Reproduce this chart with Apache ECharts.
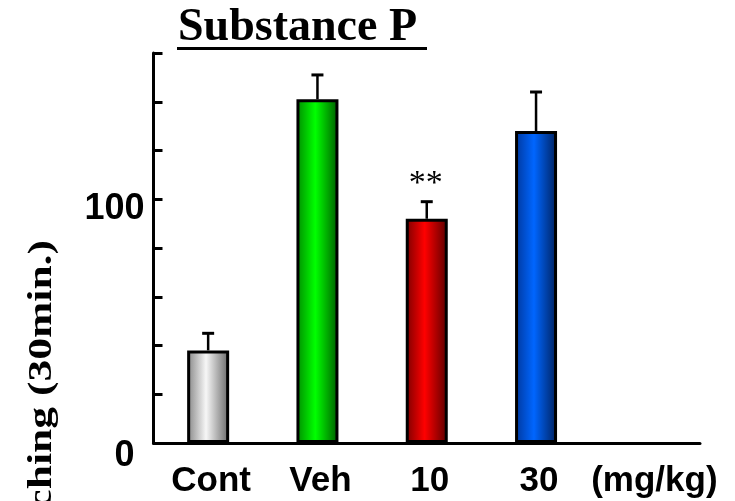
<!DOCTYPE html>
<html>
<head>
<meta charset="utf-8">
<script src="https://cdn.jsdelivr.net/npm/echarts@6/dist/echarts.min.js"></script>
<style>
  html, body { margin: 0; padding: 0; background: #ffffff; }
  #chart { width: 735px; height: 501px; }
</style>
</head>
<body>
<div id="chart"></div>
<script>
// Substance P: scratching counts per group (mean + SEM)
const categories = ['Cont', 'Veh', '10', '30', '(mg/kg)'];
const means = [38, 141, 92, 128];
const sem = [7, 10, 7, 16];
const significance = ['', '', '**', ''];
const labeledTicks = [0, 100];
const yMin = 0, yMax = 160, yStep = 20;

// left edge / highlight / right edge of each cylinder-like bar
const shades = [
  ['#858585', '#f7f7f7', '#666666'],
  ['#008c00', '#00ff00', '#005a00'],
  ['#7a0000', '#ff0000', '#580000'],
  ['#00379c', '#0066ff', '#00205c']
];

const serif = "'Liberation Serif', 'Times New Roman', serif";
const sans = "'Liberation Sans', Arial, sans-serif";

function shade(i) {
  const c = shades[i];
  return new echarts.graphic.LinearGradient(0, 0, 1, 0, [
    { offset: 0, color: c[0] },
    { offset: 0.45, color: c[1] },
    { offset: 1, color: c[2] }
  ]);
}

const chart = echarts.init(document.getElementById('chart'), null, { renderer: 'canvas' });

chart.setOption({
  backgroundColor: '#ffffff',
  animation: false,
  title: {
    text: 'Substance P',
    left: 178,
    top: 5,
    padding: 0,
    textStyle: { fontFamily: serif, fontWeight: 'bold', fontSize: 46, color: '#000' }
  },
  grid: {
    left: 153.5, right: 35, top: 53, bottom: 58,
    containLabel: false, outerBoundsMode: 'none'
  },
  xAxis: {
    type: 'category',
    data: categories,
    axisLine: { lineStyle: { color: '#000', width: 3 } },
    axisTick: { show: false },
    axisLabel: {
      interval: 0,
      margin: 38,
      verticalAlign: 'middle',
      formatter: function (v, i) {
        return i === categories.length - 1 ? '{u|' + v + '}' : '{c|' + v + '}';
      },
      rich: {
        c: { fontFamily: sans, fontWeight: 'bold', fontSize: 35, color: '#000', padding: [0, 0, 0, 6] },
        u: { fontFamily: sans, fontWeight: 'bold', fontSize: 35, color: '#000', padding: [0, 0, 0, 18] }
      }
    }
  },
  yAxis: {
    type: 'value',
    min: yMin, max: yMax, interval: yStep,
    axisLine: { show: true, lineStyle: { color: '#000', width: 3 } },
    axisTick: { show: true, inside: true, length: 9, lineStyle: { color: '#000', width: 3 } },
    splitLine: { show: false },
    axisLabel: {
      margin: 9,
      verticalAlign: 'middle',
      formatter: function (v) {
        if (labeledTicks.indexOf(v) < 0) return '';
        return v === 0 ? '{z|' + v + '}' : '{h|' + v + '}';
      },
      rich: {
        h: { fontFamily: sans, fontWeight: 'bold', fontSize: 36, color: '#000', padding: [20, 0, 0, 0] },
        z: { fontFamily: sans, fontWeight: 'bold', fontSize: 36, color: '#000', padding: [26, 10, 0, 0] }
      }
    }
  },
  series: [
    {
      type: 'bar',
      barWidth: 42,
      data: means.map(function (m, i) {
        return { value: m, itemStyle: { color: shade(i), borderColor: '#000', borderWidth: 3 } };
      }),
      z: 2
    },
    {
      type: 'custom',
      data: means.map(function (m, i) { return [i, m, sem[i]]; }),
      z: 3,
      renderItem: function (params, api) {
        const i = api.value(0);
        const m = api.value(1);
        const e = api.value(2);
        const base = api.coord([i, m]);
        const top = api.coord([i, m + e]);
        const children = [
          { type: 'line', shape: { x1: base[0], y1: base[1], x2: top[0], y2: top[1] },
            style: { stroke: '#000', lineWidth: 2.5 } },
          { type: 'line', shape: { x1: top[0] - 6, y1: top[1], x2: top[0] + 6, y2: top[1] },
            style: { stroke: '#000', lineWidth: 3 } }
        ];
        if (significance[params.dataIndex]) {
          children.push({
            type: 'text',
            style: {
              text: significance[params.dataIndex],
              x: top[0] - 1, y: top[1] - 18,
              align: 'center', verticalAlign: 'middle',
              font: 'normal 34px ' + serif, fill: '#000'
            }
          });
        }
        return { type: 'group', children: children };
      }
    }
  ],
  graphic: [
    // title underline
    { type: 'line', shape: { x1: 177, y1: 48.5, x2: 427, y2: 48.5 },
      style: { stroke: '#000', lineWidth: 3 } },
    // y-axis title, reading bottom to top, stretched along its length
    { type: 'text', x: 42.5, y: 240, rotation: Math.PI / 2, scaleX: 1.32,
      style: { text: 'Number of scratching (30min.)', align: 'right', verticalAlign: 'middle',
        font: 'bold 33px ' + serif, fill: '#000' } }
  ]
});
</script>
</body>
</html>
